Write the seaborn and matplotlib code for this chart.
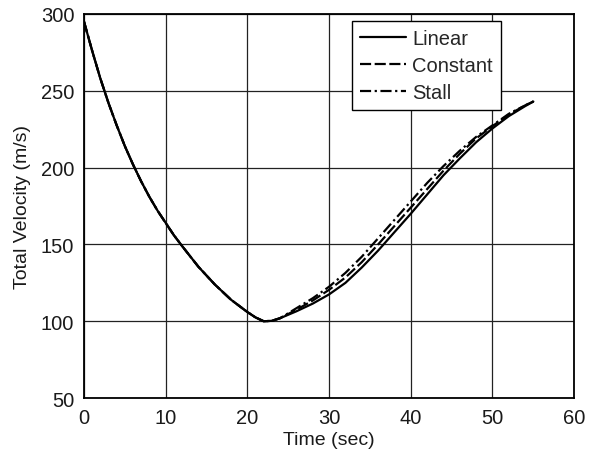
import numpy as np
import pandas as pd
import seaborn as sns
import matplotlib.pyplot as plt

# данные
time = [0, 1, 2, 3, 4, 5, 6, 7, 8, 9, 10, 11, 12, 14, 16, 18, 20, 21, 22, 23, 24,
        26, 28, 30, 32, 34, 36, 38, 40, 42, 44, 46, 48, 50, 52, 54, 55]
common = [295, 276, 258, 242, 227.5, 214, 202, 191, 181, 172, 164, 156, 149,
          135.5, 124, 114, 106, 102.5, 100, 100.3, 102]
linear = common + [106.5, 111.5, 117.5, 125, 135, 146, 158, 170, 182.5, 195, 206, 216.5, 225.5, 233.5, 240, 243]
constant = common + [107.5, 113.5, 120.5, 128.5, 138.5, 150, 162, 174, 186, 198, 209, 219, 227, 234.5, 240.5, 243]
stall = common + [108.5, 115, 122.5, 131.5, 142, 154, 166, 178, 190, 201, 211, 220, 227.5, 235, 240.5, 243]
labels = ['Linear', 'Constant', 'Stall']

df = pd.DataFrame({
    'Time': time * 3,
    'Velocity': linear + constant + stall,
    'Model': [labels[0]] * len(time) + [labels[1]] * len(time) + [labels[2]] * len(time),
})

sns.set_style('white')
plt.rcParams['font.family'] = ['Liberation Sans', 'DejaVu Sans']

fig = plt.figure(figsize=(6, 4.52), dpi=100)
ax = fig.add_axes([0.14, 0.117, 0.817, 0.85])

sns.lineplot(data=df, x='Time', y='Velocity', hue='Model', style='Model',
             palette=['black'] * 3,
             dashes={'Linear': '', 'Constant': (5, 1.6), 'Stall': (5, 1.6, 1, 1.6)},
             linewidth=1.6, ax=ax, legend=True)

ax.set_xlim(0, 60)
ax.set_ylim(50, 300)
ax.set_xticks(np.arange(0, 61, 10))
ax.set_yticks(np.arange(50, 301, 50))
ax.grid(True, color='#222222', linewidth=0.9)
ax.set_axisbelow(True)
for s in ax.spines.values():
    s.set_color('black')
    s.set_linewidth(1.3)
ax.tick_params(direction='out', length=4, width=1, colors='#1a1a1a', labelsize=14.5, pad=3)

ax.set_xlabel('Time (sec)', fontsize=14, color='#1a1a1a', labelpad=3)
ax.set_ylabel('Total Velocity (m/s)', fontsize=14, color='#1a1a1a', labelpad=7)

leg = ax.legend(loc='upper right', bbox_to_anchor=(0.851, 0.982), fontsize=14.5,
                frameon=True, fancybox=False, framealpha=1, edgecolor='black',
                handlelength=2.3, handletextpad=0.3, borderpad=0.4,
                labelspacing=0.4, borderaxespad=0)
leg.get_frame().set_linewidth(1.0)
for h in leg.get_lines():
    h.set_linewidth(1.6)

fig.savefig('out.png', dpi=100)
